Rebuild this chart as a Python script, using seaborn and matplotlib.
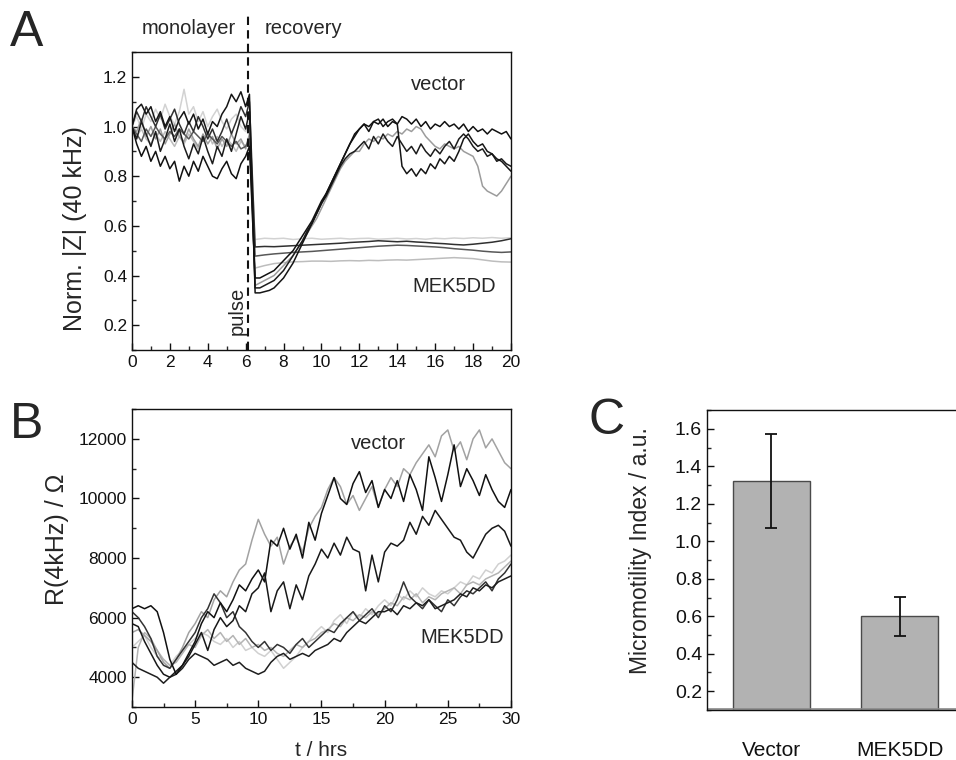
import numpy as np
import pandas as pd
import matplotlib
matplotlib.use('Agg')
import matplotlib.pyplot as plt
from matplotlib.ticker import MultipleLocator, FormatStrFormatter
import seaborn as sns

# ---------------- panel A : normalised |Z| at 40 kHz ----------------
t_mono = np.append(np.arange(0, 6.01, 0.25), 6.2)      # 26 pts before the pulse
t_vec = np.arange(6.5, 20.01, 0.25)                    # 55 pts, vector recovery
t_mek = np.arange(6.5, 20.01, 0.5)                     # 28 pts, MEK5DD recovery

mono_v1 = [1.00, 0.93, 0.88, 0.92, 0.86, 0.90, 0.84, 0.88, 0.83, 0.86, 0.78, 0.84, 0.80,
           0.86, 0.82, 0.88, 0.84, 0.80, 0.79, 0.83, 0.86, 0.81, 0.79, 0.85, 0.88, 0.92]
mono_v2 = [1.00, 1.07, 1.09, 1.05, 1.08, 1.02, 1.06, 1.00, 1.04, 0.98, 1.03, 1.06, 1.01,
           1.05, 0.99, 1.03, 0.97, 1.02, 1.00, 1.05, 1.08, 1.13, 1.10, 1.14, 1.08, 1.13]
mono_v3 = [1.00, 0.95, 1.02, 0.97, 0.92, 0.98, 0.90, 0.95, 1.01, 0.94, 0.99, 0.92, 0.87,
           0.93, 0.89, 0.96, 0.90, 0.85, 0.92, 0.88, 0.95, 0.90, 0.97, 1.04, 0.99, 1.06]
mono_v4 = [1.00, 0.98, 1.03, 0.96, 1.00, 0.95, 0.99, 0.93, 0.97, 1.01, 0.96, 0.94, 0.99,
           0.95, 0.92, 0.97, 0.93, 0.96, 0.91, 0.95, 0.92, 0.97, 0.93, 0.95, 0.91, 0.97]
mono_m1 = [1.00, 1.04, 0.99, 1.05, 1.02, 1.07, 1.03, 1.09, 1.04, 1.01, 1.06, 1.15, 1.05,
           1.08, 1.02, 1.06, 1.00, 1.04, 1.07, 1.02, 0.99, 1.03, 1.05, 1.00, 0.98, 1.02]
mono_m2 = [1.00, 1.06, 1.02, 1.08, 1.04, 1.00, 1.05, 0.99, 1.03, 1.07, 1.01, 0.97, 1.02,
           0.98, 1.04, 1.00, 0.95, 0.99, 0.94, 0.98, 1.03, 0.97, 1.02, 1.08, 1.04, 1.10]
mono_m3 = [1.00, 0.97, 0.94, 0.99, 0.96, 1.00, 0.97, 0.95, 0.98, 0.96, 0.99, 0.97, 0.95,
           0.98, 0.96, 0.94, 0.97, 0.95, 0.93, 0.96, 0.94, 0.92, 0.94, 0.91, 0.92, 0.95]
mono_m4 = [1.00, 0.96, 0.99, 0.95, 0.93, 0.97, 0.94, 0.98, 0.95, 0.92, 0.96, 0.93, 0.97,
           0.94, 0.91, 0.95, 0.98, 0.93, 0.96, 0.92, 0.95, 0.93, 0.90, 0.94, 0.92, 0.96]

rec_v1 = [0.39, 0.39, 0.40, 0.41, 0.42, 0.44, 0.46, 0.48,
          0.50, 0.53, 0.56, 0.59, 0.62, 0.66, 0.70, 0.73,
          0.77, 0.81, 0.85, 0.89, 0.93, 0.97, 0.99, 1.01,
          1.00, 1.02, 1.01, 1.03, 1.00, 1.02, 1.01, 1.04,
          1.03, 1.01, 1.03, 1.00, 1.02, 0.99, 1.01, 1.00,
          1.02, 1.00, 1.01, 0.99, 1.01, 0.98, 1.00, 0.98,
          0.99, 0.97, 0.99, 0.98, 0.97, 0.98, 0.95]
rec_v2 = [0.33, 0.33, 0.335, 0.34, 0.35, 0.37, 0.39, 0.42,
          0.45, 0.49, 0.53, 0.57, 0.61, 0.65, 0.69, 0.73,
          0.77, 0.81, 0.85, 0.89, 0.93, 0.96, 0.99, 1.01,
          0.98, 1.02, 1.03, 1.00, 1.02, 1.03, 1.01, 0.84,
          0.81, 0.83, 0.80, 0.83, 0.81, 0.85, 0.83, 0.87,
          0.85, 0.88, 0.86, 0.90, 0.95, 0.97, 0.94, 0.92,
          0.93, 0.90, 0.89, 0.87, 0.86, 0.84, 0.82]
rec_v3 = [0.35, 0.35, 0.36, 0.37, 0.38, 0.40, 0.42, 0.45,
          0.48, 0.51, 0.54, 0.58, 0.61, 0.65, 0.69, 0.72,
          0.76, 0.80, 0.84, 0.87, 0.89, 0.90, 0.92, 0.94,
          0.91, 0.96, 0.93, 0.97, 0.94, 0.92, 0.96, 0.93,
          0.90, 0.92, 0.89, 0.93, 0.90, 0.88, 0.91, 0.89,
          0.92, 0.94, 0.91, 0.95, 0.97, 0.95, 0.92, 0.90,
          0.91, 0.88, 0.89, 0.86, 0.87, 0.85, 0.84]
rec_v4 = [0.36, 0.37, 0.38, 0.39, 0.40, 0.42, 0.44, 0.46,
          0.48, 0.51, 0.54, 0.57, 0.60, 0.63, 0.67, 0.71,
          0.75, 0.79, 0.83, 0.86, 0.88, 0.90, 0.90, 0.93,
          0.95, 0.94, 0.96, 0.95, 0.97, 0.96, 0.98, 0.97,
          0.99, 0.98, 1.00, 0.99, 0.96, 0.94, 0.92, 0.91,
          0.93, 0.92, 0.91, 0.92, 0.90, 0.89, 0.88, 0.84,
          0.76, 0.74, 0.73, 0.72, 0.74, 0.77, 0.80]
rec_m1 = [0.545, 0.550, 0.548, 0.550, 0.545, 0.548, 0.550,
          0.546, 0.548, 0.550, 0.547, 0.549, 0.550, 0.546,
          0.548, 0.550, 0.547, 0.549, 0.546, 0.550, 0.548,
          0.551, 0.549, 0.552, 0.550, 0.553, 0.550, 0.552]
rec_m2 = [0.515, 0.517, 0.516, 0.518, 0.520, 0.522, 0.524,
          0.526, 0.528, 0.530, 0.533, 0.535, 0.537, 0.540,
          0.538, 0.536, 0.538, 0.535, 0.533, 0.530, 0.528,
          0.525, 0.523, 0.526, 0.530, 0.534, 0.540, 0.548]
rec_m3 = [0.478, 0.483, 0.487, 0.490, 0.493, 0.495, 0.497,
          0.500, 0.503, 0.506, 0.509, 0.512, 0.515, 0.518,
          0.520, 0.522, 0.521, 0.519, 0.517, 0.515, 0.512,
          0.508, 0.505, 0.502, 0.498, 0.495, 0.493, 0.495]
rec_m4 = [0.430, 0.440, 0.448, 0.452, 0.455, 0.456, 0.458,
          0.458, 0.457, 0.459, 0.460, 0.459, 0.461, 0.460,
          0.462, 0.463, 0.462, 0.464, 0.466, 0.468, 0.470,
          0.472, 0.470, 0.468, 0.463, 0.458, 0.455, 0.454]

# ---------------- panel B : R(4 kHz), values in units of 100 Ohm ----------------
t_b = np.arange(0, 30.01, 0.5)   # 61 pts

b_g = [55, 56, 54, 52, 49, 45, 43, 46, 50, 55,
       58, 62, 60, 66, 69, 67, 72, 76, 78, 86,
       93, 88, 84, 87, 78, 84, 87, 82, 90, 94,
       97, 103, 107, 104, 98, 101, 96, 100, 104, 97,
       103, 107, 104, 110, 108, 112, 115, 118, 114, 121,
       123, 116, 119, 113, 120, 123, 117, 120, 116, 112,
       110]
b_k1 = [63, 64, 63, 64, 62, 55, 46, 41, 44, 48,
        52, 58, 62, 60, 65, 62, 66, 71, 69, 73,
        76, 72, 86, 84, 90, 83, 88, 80, 92, 86,
        95, 101, 107, 100, 98, 105, 109, 102, 106, 97,
        103, 100, 106, 99, 108, 103, 96, 114, 107, 99,
        108, 118, 104, 110, 106, 101, 108, 103, 99, 97,
        103]
b_k2 = [58, 57, 52, 48, 44, 41, 40, 42, 44, 47,
        51, 55, 49, 56, 60, 57, 59, 64, 62, 68,
        70, 75, 62, 69, 72, 63, 71, 66, 74, 78,
        83, 80, 85, 81, 87, 83, 82, 69, 81, 72,
        82, 85, 84, 86, 92, 88, 94, 91, 96, 93,
        90, 87, 86, 82, 80, 84, 88, 90, 91, 89,
        84]
b_m1 = [45, 43, 42, 41, 40, 38, 40, 41, 43, 46,
        48, 47, 46, 44, 45, 46, 44, 45, 43, 42,
        41, 42, 45, 47, 48, 46, 47, 48, 47, 49,
        50, 51, 53, 52, 55, 57, 59, 58, 60, 62,
        62, 63, 61, 64, 63, 65, 64, 66, 63, 64,
        65, 66, 68, 67, 70, 69, 71, 70, 72, 73,
        74]
b_m2 = [62, 60, 57, 53, 47, 44, 43, 46, 49, 52,
        55, 60, 63, 68, 65, 60, 62, 57, 55, 52,
        50, 52, 49, 51, 50, 48, 51, 53, 50, 52,
        54, 56, 55, 58, 60, 62, 59, 61, 63, 60,
        64, 62, 66, 72, 67, 65, 63, 66, 64, 62,
        66, 64, 67, 69, 68, 70, 72, 69, 73, 75,
        78]
b_m3 = [50, 52, 54, 50, 47, 46, 44, 47, 49, 51,
        53, 55, 54, 52, 51, 53, 50, 52, 49, 50,
        48, 47, 49, 46, 43, 45, 47, 50, 52, 55,
        57, 55, 59, 61, 58, 62, 60, 63, 61, 64,
        66, 64, 68, 66, 69, 67, 70, 68, 67, 69,
        68, 70, 72, 71, 74, 73, 76, 75, 78, 79,
        81]
b_m4 = [32, 50, 55, 53, 49, 46, 44, 45, 48, 51,
        50, 54, 56, 53, 55, 52, 54, 51, 53, 50,
        51, 49, 50, 48, 47, 49, 51, 50, 52, 53,
        55, 56, 58, 57, 60, 59, 61, 60, 62, 61,
        63, 65, 64, 67, 66, 68, 65, 67, 66, 68,
        69, 70, 68, 71, 72, 71, 73, 74, 75, 77,
        79]

# ---------------- panel C : micromotility index ----------------
c_groups = ['Vector', 'MEK5DD']
c_means = [1.32, 0.60]
c_errs = [0.25, 0.105]

# ---------------- build long tables ----------------
rows = []
a_traces = {
    'm4': (mono_m4, t_mek, rec_m4), 'm1': (mono_m1, t_mek, rec_m1),
    'v4': (mono_v4, t_vec, rec_v4), 'm3': (mono_m3, t_mek, rec_m3),
    'm2': (mono_m2, t_mek, rec_m2), 'v3': (mono_v3, t_vec, rec_v3),
    'v2': (mono_v2, t_vec, rec_v2), 'v1': (mono_v1, t_vec, rec_v1),
}
for well, (mono, t_rec, rec) in a_traces.items():
    for t, z in zip(np.concatenate([t_mono, t_rec]), list(mono) + list(rec)):
        rows.append({'t': t, 'z': z, 'well': well})
dfa = pd.DataFrame(rows)
pal_a = {'v1': '#111111', 'v2': '#151515', 'v3': '#1c1c1c', 'v4': '#9c9c9c',
         'm1': '#d2d2d2', 'm2': '#303030', 'm3': '#585858', 'm4': '#bdbdbd'}

b_traces = {'m3': b_m3, 'm4': b_m4, 'g': b_g, 'm2': b_m2, 'm1': b_m1, 'k2': b_k2, 'k1': b_k1}
dfb = pd.concat([pd.DataFrame({'t': t_b, 'r': np.array(v) * 100, 'well': k})
                 for k, v in b_traces.items()])
pal_b = {'g': '#a2a2a2', 'k1': '#111111', 'k2': '#181818', 'm1': '#1e1e1e',
         'm2': '#333333', 'm3': '#d0d0d0', 'm4': '#b4b4b4'}

# ---------------- style ----------------
sns.set_style('ticks')
plt.rcParams['font.family'] = ['Liberation Sans', 'DejaVu Sans']
plt.rcParams['xtick.direction'] = 'in'
plt.rcParams['ytick.direction'] = 'in'
plt.rcParams['axes.linewidth'] = 1.0


def style_axis(ax, fs=12.5):
    ax.tick_params(which='major', length=5, width=1, labelsize=fs, colors='#111111')
    ax.tick_params(which='minor', length=3, width=1)
    for s in ax.spines.values():
        s.set_color('#111111')
        s.set_visible(True)


fig = plt.figure(figsize=(9.56, 7.6), dpi=100)

# ---- A ----
axA = fig.add_axes([0.138, 0.5395, 0.3965, 0.392])
sns.lineplot(data=dfa, x='t', y='z', hue='well', palette=pal_a, hue_order=list(a_traces),
             lw=1.1, legend=False, ax=axA)
axA.set_xlim(0, 20)
axA.set_ylim(0.1, 1.3)
axA.set_xticks(np.arange(0, 21, 2))
axA.set_yticks(np.arange(0.2, 1.21, 0.2))
axA.xaxis.set_minor_locator(MultipleLocator(1))
axA.yaxis.set_minor_locator(MultipleLocator(0.1))
axA.yaxis.set_major_formatter(FormatStrFormatter('%.1f'))
axA.set_xlabel('')
axA.set_ylabel('Norm. |Z| (40 kHz)', fontsize=18)
axA.yaxis.set_label_coords(-0.118, 0.406)
style_axis(axA)
axA.plot([6.12, 6.12], [0, 1.134], transform=axA.get_xaxis_transform(), color='#111111',
         lw=1.5, ls=(0, (4, 2.5)), clip_on=False)
axA.text(5.55, 0.256, 'pulse', rotation=90, ha='center', va='center', fontsize=14.5)
axA.text(16.2, 1.168, 'vector', ha='center', va='center', fontsize=14.5)
axA.text(17.0, 0.357, 'MEK5DD', ha='center', va='center', fontsize=14.5)
fig.text(0.197, 0.963, 'monolayer', ha='center', va='center', fontsize=14.5)
fig.text(0.317, 0.963, 'recovery', ha='center', va='center', fontsize=14.5)

# ---- B ----
axB = fig.add_axes([0.138, 0.0697, 0.3965, 0.392])
sns.lineplot(data=dfb, x='t', y='r', hue='well', palette=pal_b, hue_order=list(b_traces),
             lw=1.1, legend=False, ax=axB)
axB.set_xlim(0, 30)
axB.set_ylim(3000, 13000)
axB.set_xticks(np.arange(0, 31, 5))
axB.set_yticks(np.arange(4000, 12001, 2000))
axB.xaxis.set_minor_locator(MultipleLocator(2.5))
axB.yaxis.set_minor_locator(MultipleLocator(1000))
axB.set_xlabel('t / hrs', fontsize=15)
axB.set_ylabel('R(4kHz) / \u03a9', fontsize=18)
axB.xaxis.set_label_coords(0.5, -0.113)
axB.yaxis.set_label_coords(-0.166, 0.564)
style_axis(axB)
axB.text(19.5, 11850, 'vector', ha='center', va='center', fontsize=14.5)
axB.text(26.1, 5350, 'MEK5DD', ha='center', va='center', fontsize=14.5)

# ---- C ----
axC = fig.add_axes([0.7395, 0.0658, 0.269, 0.3947])
sns.barplot(x=c_groups, y=c_means, color='#b2b2b2', edgecolor='#4a4a4a', linewidth=1.0,
            width=0.6, saturation=1, ax=axC)
axC.errorbar(c_groups, c_means, yerr=c_errs, fmt='none', ecolor='#111111', elinewidth=1.3,
             capsize=4, capthick=1.3)
axC.axhline(0.107, color='#8a8a8a', lw=1.2)
axC.set_xlim(-0.5, 1.5)
axC.set_ylim(0.1, 1.7)
axC.set_yticks(np.arange(0.2, 1.61, 0.2))
axC.yaxis.set_minor_locator(MultipleLocator(0.1))
axC.yaxis.set_major_formatter(FormatStrFormatter('%.1f'))
axC.set_ylabel('Micromotility Index / a.u.', fontsize=16.5)
axC.yaxis.set_label_coords(-0.214, 0.533)
style_axis(axC, fs=14)
axC.tick_params(axis='x', which='both', length=0, pad=22, labelsize=15)

fig.text(0.028, 0.956, 'A', ha='center', va='center', fontsize=36)
fig.text(0.028, 0.441, 'B', ha='center', va='center', fontsize=36)
fig.text(0.635, 0.446, 'C', ha='center', va='center', fontsize=36)

fig.savefig('out.png', dpi=100)
